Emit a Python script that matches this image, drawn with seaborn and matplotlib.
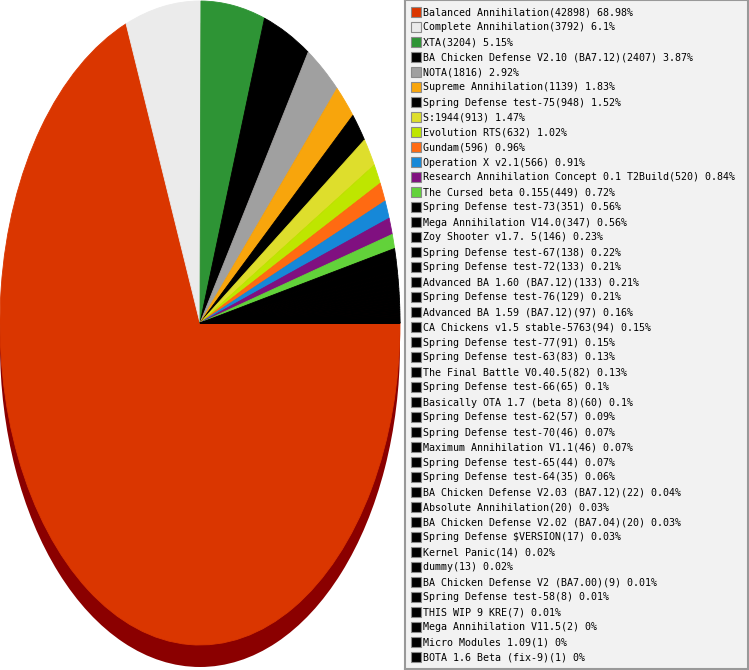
import matplotlib
matplotlib.use("Agg")
import matplotlib.pyplot as plt
from matplotlib.patches import Rectangle
import seaborn as sns

names = ["Balanced Annihilation", "Complete Annihilation", "XTA",
         "BA Chicken Defense V2.10 (BA7.12)", "NOTA", "Supreme Annihilation",
         "Spring Defense test-75", "S:1944", "Evolution RTS", "Gundam",
         "Operation X v2.1", "Research Annihilation Concept 0.1 T2Build",
         "The Cursed beta 0.155", "Spring Defense test-73", "Mega Annihilation V14.0",
         "Zoy Shooter v1.7. 5", "Spring Defense test-67", "Spring Defense test-72",
         "Advanced BA 1.60 (BA7.12)", "Spring Defense test-76", "Advanced BA 1.59 (BA7.12)",
         "CA Chickens v1.5 stable-5763", "Spring Defense test-77", "Spring Defense test-63",
         "The Final Battle V0.40.5", "Spring Defense test-66", "Basically OTA 1.7 (beta 8)",
         "Spring Defense test-62", "Spring Defense test-70", "Maximum Annihilation V1.1",
         "Spring Defense test-65", "Spring Defense test-64", "BA Chicken Defense V2.03 (BA7.12)",
         "Absolute Annihilation", "BA Chicken Defense V2.02 (BA7.04)", "Spring Defense $VERSION",
         "Kernel Panic", "dummy", "BA Chicken Defense V2 (BA7.00)", "Spring Defense test-58",
         "THIS WIP 9 KRE", "Mega Annihilation V11.5", "Micro Modules 1.09", "BOTA 1.6 Beta (fix-9)"]
values = [42898, 3792, 3204, 2407, 1816, 1139, 948, 913, 632, 596, 566, 520, 449,
          351, 347, 146, 138, 133, 133, 129, 97, 94, 91, 83, 82, 65, 60, 57, 46, 46,
          44, 35, 22, 20, 20, 17, 14, 13, 9, 8, 7, 2, 1, 1]
head_colors = ["#da3600", "#ebebeb", "#2e9435", "#000000", "#a0a0a0", "#f8a50c",
               "#000000", "#dede2c", "#bee600", "#ff6a12", "#1688d8", "#801080", "#62d23a"]
colors = head_colors + ["#000000"] * (len(values) - len(head_colors))

sns.set_theme(style="white")
plt.rcParams['font.family'] = ['DejaVu Sans Mono', 'DejaVu Sans']

total = sum(values)
def pct(v):
    s = "%.2f" % (v / total * 100)
    return s.rstrip('0').rstrip('.')
labels = [f"{n}({v}) {pct(v)}%" for n, v in zip(names, values)]

W, H = 749, 670
fig = plt.figure(figsize=(W / 100, H / 100), dpi=100)
fig.patch.set_facecolor("white")

# Pie axes
ax = fig.add_axes([0, 0, 400 / W, 1])
shift = 22 / 322
ax.pie([1], colors=["#8b0000"], center=(0, -shift), radius=1,
       wedgeprops=dict(linewidth=0))
wedges, _ = ax.pie(values, colors=colors, startangle=0, counterclock=False, radius=1,
                   wedgeprops=dict(linewidth=0.6))
for w, c in zip(wedges, colors):
    w.set_edgecolor(c)
ax.set_aspect('auto')
ax.set_xlim(-1.0, 1.0)
ax.set_ylim((323 - 670) / 322, 323 / 322)
ax.axis('off')

# Legend box
lx0, ly0, lw, lh = 405, 0, 343, 669
lax = fig.add_axes([lx0 / W, 1 - (ly0 + lh) / H, lw / W, lh / H])
lax.set_facecolor("#f2f2f2")
lax.set_xlim(0, lw)
lax.set_ylim(lh, 0)
lax.set_xticks([])
lax.set_yticks([])
for s in lax.spines.values():
    s.set_color("#999999")
    s.set_linewidth(1.5)
    s.set_visible(True)
for i, (lab, c) in enumerate(zip(labels, colors)):
    y = 12 + 15 * i
    lax.add_patch(Rectangle((6, y - 5), 10, 10, facecolor=c, edgecolor="#8a8a8a",
                            linewidth=0.8))
    lax.text(18, y + 0.5, lab, fontsize=7.2, color="#000000", va="center", ha="left")

fig.savefig("out.png", dpi=100, facecolor="white")
